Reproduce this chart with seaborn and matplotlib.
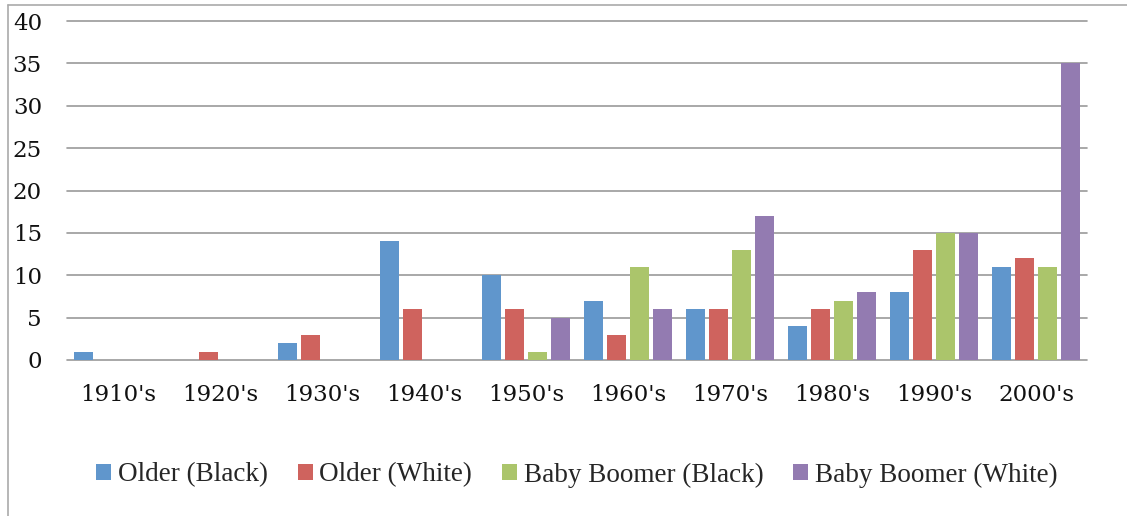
import matplotlib
matplotlib.use("Agg")
import matplotlib.pyplot as plt
from matplotlib.lines import Line2D
import seaborn as sns
import pandas as pd

decades = ["1910's", "1920's", "1930's", "1940's", "1950's",
           "1960's", "1970's", "1980's", "1990's", "2000's"]
older_black = [1, 0, 2, 14, 10, 7, 6, 4, 8, 11]
older_white = [0, 1, 3, 6, 6, 3, 6, 6, 13, 12]
boomer_black = [0, 0, 0, 0, 1, 11, 13, 7, 15, 11]
boomer_white = [0, 0, 0, 0, 5, 6, 17, 8, 15, 35]
series_names = ["Older (Black)", "Older (White)",
                "Baby Boomer (Black)", "Baby Boomer (White)"]
colors = ["#6096CC", "#CF635E", "#ABC56B", "#937BB1"]

rows = []
for name, vals in zip(series_names,
                      [older_black, older_white, boomer_black, boomer_white]):
    for d, v in zip(decades, vals):
        rows.append({"decade": d, "series": name, "value": v})
df = pd.DataFrame(rows)

sns.set_theme(style="white")
W, H = 1127, 516
fig = plt.figure(figsize=(W / 100, H / 100), dpi=100)
ax = fig.add_axes([67 / W, 1 - 360 / H, (1087 - 67) / W, (360 - 21) / H])

sns.barplot(data=df, x="decade", y="value", hue="series",
            order=decades, hue_order=series_names, palette=colors,
            saturation=1, width=0.9, gap=0.2, linewidth=0,
            errorbar=None, ax=ax)

ax.set_ylim(0, 40)
ax.set_yticks(range(0, 41, 5))
ax.set_xlabel("")
ax.set_ylabel("")
for s in ax.spines.values():
    s.set_visible(False)
ax.set_axisbelow(True)
ax.yaxis.grid(True, color="#9a9a9a", linewidth=1.2)
ax.xaxis.grid(False)
for gl in ax.get_ygridlines():
    gl.set_clip_on(False)
ax.tick_params(axis="both", length=0)
ax.tick_params(axis="y", pad=18)
ax.tick_params(axis="x", pad=17)
for lab in ax.get_xticklabels() + ax.get_yticklabels():
    lab.set_fontfamily("DejaVu Serif")
    lab.set_fontsize(16.5)
    lab.set_color("#111111")

handles, labels = ax.get_legend_handles_labels()
if ax.get_legend() is not None:
    ax.get_legend().remove()
fig.legend(handles, labels, loc="center", ncol=4,
           bbox_to_anchor=(577 / W, 1 - 475 / H), frameon=False,
           prop={"family": "Liberation Serif", "size": 19.5},
           handlelength=0.55, handleheight=0.55, handletextpad=0.25,
           columnspacing=1.1, borderaxespad=0)

# outer chart border (partially visible)
fig.add_artist(Line2D([8 / W, 1.0], [1 - 5 / H, 1 - 5 / H],
                      transform=fig.transFigure, color="#aaaaaa", linewidth=1.2))
fig.add_artist(Line2D([8 / W, 8 / W], [0.0, 1 - 5 / H],
                      transform=fig.transFigure, color="#aaaaaa", linewidth=1.2))

fig.savefig("out.png", dpi=100)
